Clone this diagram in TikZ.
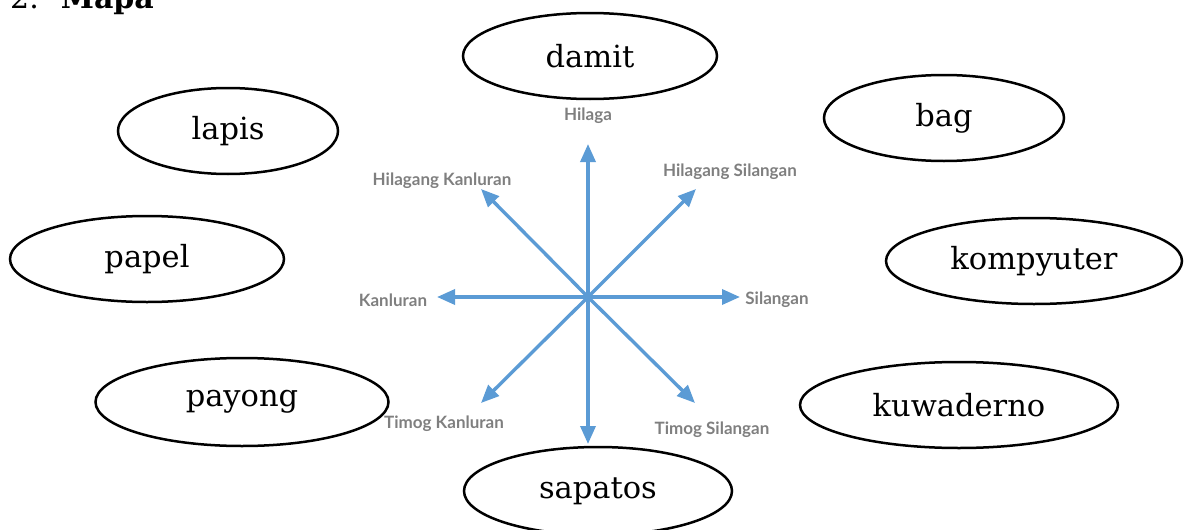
\documentclass[tikz,border=0pt]{standalone}
\usepackage{fontspec}
\setmainfont{DejaVu Serif}
\newfontfamily\labfont{Lato}
\usetikzlibrary{shapes.geometric,arrows.meta}
\definecolor{arrblue}{HTML}{5B9BD5}
\definecolor{labgray}{HTML}{7F7F7F}
\tikzset{
  item/.style={draw=black, line width=2.5pt, ellipse, inner sep=0pt, font=\fontsize{30.5}{34}\selectfont},
  dirarrow/.style={draw=arrblue, line width=3.4pt, -{Triangle[length=18pt,width=15pt]}},
  dirlabel/.style={font=\labfont\bfseries\fontsize{17}{19}\selectfont, text=labgray, inner sep=0pt}
}
\begin{document}
\begin{tikzpicture}[x=1pt,y=-1pt]
\useasboundingbox (0,0) rectangle (1184,530);
% title
\node[anchor=base west, inner sep=0pt, font=\fontsize{30}{32}\selectfont] (title) at (10,9) {2.\hspace{22pt}\textbf{Mapa}};
% items
\node[item, minimum width=254pt, minimum height=86pt] (damit) at (590,56) {damit};
\node[item, minimum width=220pt, minimum height=86pt] (lapis) at (228,131) {lapis};
\node[item, minimum width=240pt, minimum height=86pt] (bag) at (944,118) {bag};
\node[item, minimum width=274pt, minimum height=86pt] (papel) at (147,259) {papel};
\node[item, minimum width=296pt, minimum height=86pt] (kompyuter) at (1034,261) {kompyuter};
\node[item, minimum width=293pt, minimum height=88pt] (payong) at (242,402) {payong};
\node[item, minimum width=318pt, minimum height=86pt] (kuwaderno) at (959,405) {kuwaderno};
\node[item, minimum width=268pt, minimum height=88pt] (sapatos) at (598,491) {sapatos};
% compass
\coordinate (c) at (588,297);
\coordinate (n) at (588,144);
\coordinate (s) at (588,444);
\coordinate (e) at (740,297);
\coordinate (w) at (437,297);
\coordinate (ne) at (696,189);
\coordinate (nw) at (481,189);
\coordinate (se) at (695,403);
\coordinate (sw) at (481,403);
\foreach \d in {n,s,e,w,ne,nw,se,sw}{\draw[dirarrow] (c) -- (\d);}
% labels
\node[dirlabel] (lN) at (588,116) {Hilaga};
\node[dirlabel] (lNW) at (442,181) {Hilagang Kanluran};
\node[dirlabel] (lNE) at (730,172) {Hilagang Silangan};
\node[dirlabel] (lW) at (393,300) {Kanluran};
\node[dirlabel] (lE) at (777,300) {Silangan};
\node[dirlabel] (lSW) at (444,424) {Timog Kanluran};
\node[dirlabel] (lSE) at (712,430) {Timog Silangan};
\end{tikzpicture}
\end{document}
